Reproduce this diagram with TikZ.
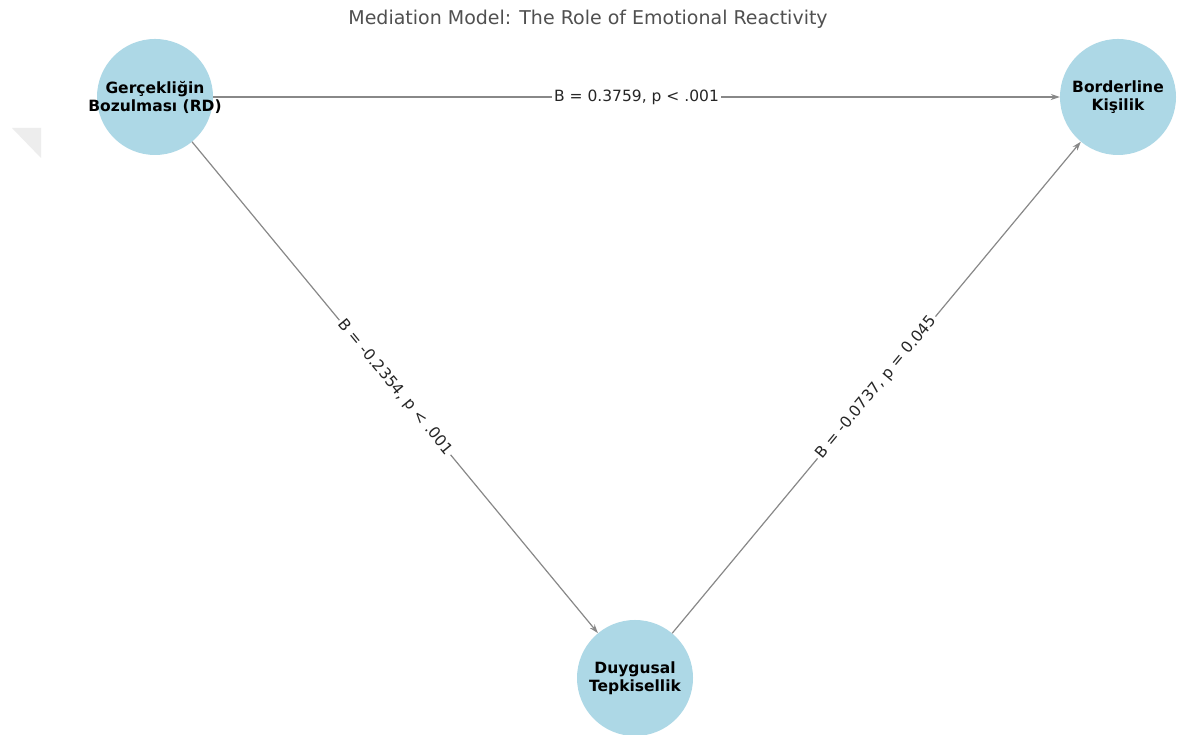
\documentclass[tikz,border=0pt]{standalone}
\usepackage{fontspec}
\setmainfont{DejaVu Sans}
\usetikzlibrary{arrows.meta}
\definecolor{nodeblue}{HTML}{ADD8E6}
\definecolor{edgegray}{HTML}{888888}
\definecolor{titlegray}{HTML}{505050}
\tikzset{
 var/.style={circle,fill=nodeblue,minimum size=116pt,inner sep=0pt},
 vartext/.style={align=center,inner sep=0pt,font=\fontsize{15.5}{18}\selectfont\bfseries},
 effect/.style={draw=edgegray,line width=1.2pt,-{Stealth[length=9pt,width=6pt]}},
 coef/.style={fill=white,inner sep=2pt,sloped,text=black!85,
   font=\fontsize{15.5}{17}\selectfont}
}
\begin{document}
\begin{tikzpicture}[x=1pt,y=1pt]
 \useasboundingbox[fill=white] (0,0) rectangle (1187,735);
 \fill[black!7] (12,607)--(41,607)--(41,577)--cycle;
 \node[font=\fontsize{19}{22}\selectfont,text=titlegray] (title) at (588,716)
   {Mediation Model: The Role of Emotional Reactivity};
 \node[var,label={[vartext]center:Gerçekliğin\\Bozulması (RD)}] (rd) at (155,638) {};
 \node[var,label={[vartext]center:Borderline\\Kişilik}] (bpd) at (1118,638) {};
 \node[var,label={[vartext]center:Duygusal\\Tepkisellik}] (er) at (635,57) {};
 \draw[effect] (rd) -- node[coef] {B = 0.3759, p < .001} (bpd);
 \draw[effect] (rd) -- node[coef] {B = -0.2354, p < .001} (er);
 \draw[effect] (er) -- node[coef] {B = -0.0737, p = 0.045} (bpd);
\end{tikzpicture}
\end{document}
